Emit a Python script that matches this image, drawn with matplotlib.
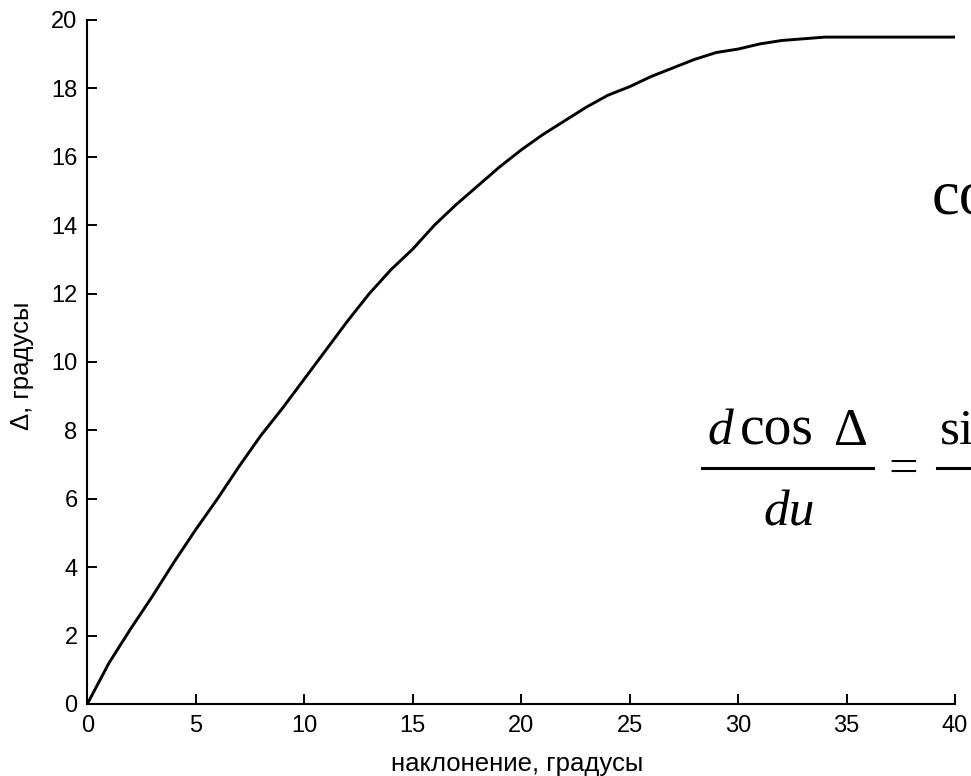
import numpy as np
import matplotlib
matplotlib.use("Agg")
import matplotlib.pyplot as plt

# tilt angle, degrees
tilt = [0, 1, 2, 3, 4, 5, 6, 7, 8, 9, 10, 11, 12, 13, 14, 15, 16, 17, 18, 19, 20,
        21, 22, 23, 24, 25, 26, 27, 28, 29, 30, 31, 32, 33, 34, 35, 36, 37, 38, 39, 40]
# delta, degrees
delta = [0, 1.2, 2.2, 3.15, 4.15, 5.1, 6.0, 6.95, 7.85, 8.65, 9.5,
         10.35, 11.2, 12.0, 12.7, 13.3, 14.0, 14.6, 15.15, 15.7, 16.2,
         16.65, 17.05, 17.45, 17.8, 18.05, 18.35, 18.6, 18.85, 19.05, 19.15,
         19.3, 19.4, 19.45, 19.5, 19.5, 19.5, 19.5, 19.5, 19.5, 19.5]
xticks = [0, 5, 10, 15, 20, 25, 30, 35, 40]
yticks = [0, 2, 4, 6, 8, 10, 12, 14, 16, 18, 20]

W, H = 971, 776
fig = plt.figure(figsize=(W / 100, H / 100), dpi=100)
ax = fig.add_axes([87.3 / W, 1 - 704 / H, (955 - 87.3) / W, (704 - 20) / H])

ax.plot(tilt, delta, color="black", lw=2.1, solid_joinstyle="round")
ax.set_xlim(0, 40)
ax.set_ylim(0, 20)
ax.set_xticks(xticks)
ax.set_yticks(yticks)
for s in ["top", "right"]:
    ax.spines[s].set_visible(False)
for s in ["left", "bottom"]:
    ax.spines[s].set_linewidth(1.5)
ax.tick_params(direction="in", length=7, width=1.4, labelsize=17)
ax.tick_params(axis="y", pad=7)
ax.tick_params(axis="x", pad=8)
for lab in ax.get_xticklabels() + ax.get_yticklabels():
    lab.set_fontfamily("Liberation Sans")

def px(x, y):
    return x / W, 1 - y / H

fig.text(*px(517, 771), "наклонение, градусы", ha="center", va="baseline",
         fontsize=18.5, family="Liberation Sans")
fig.text(*px(22.5, 366), "Δ, градусы", ha="center", va="center", rotation=90,
         fontsize=18.5, family="Liberation Sans")

# formula pieces overlaid on the right (cut off by the figure edge, as in the original)
serif = "Liberation Serif"
fig.text(*px(932, 213), "co", ha="left", va="baseline", fontsize=45, family=serif)
fig.text(*px(707, 445), "d", ha="left", va="baseline", fontsize=37, family=serif, style="italic")
fig.text(*px(740, 445), "cos", ha="left", va="baseline", fontsize=40, family=serif)
fig.text(*px(834, 445), "Δ", ha="left", va="baseline", fontsize=38, family=serif)
fig.text(*px(763, 525), "du", ha="left", va="baseline", fontsize=37, family=serif, style="italic")
fig.text(*px(888, 484), "=", ha="left", va="baseline", fontsize=38, family=serif)
fig.text(*px(940, 443), "si", ha="left", va="baseline", fontsize=37, family=serif)
fig.add_artist(plt.Line2D([701.7 / W, 873 / W], [1 - 468 / H] * 2, color="black", lw=2.2))
fig.add_artist(plt.Line2D([936.7 / W, 1.0], [1 - 468 / H] * 2, color="black", lw=2.2))

fig.savefig("out.png", dpi=100)
